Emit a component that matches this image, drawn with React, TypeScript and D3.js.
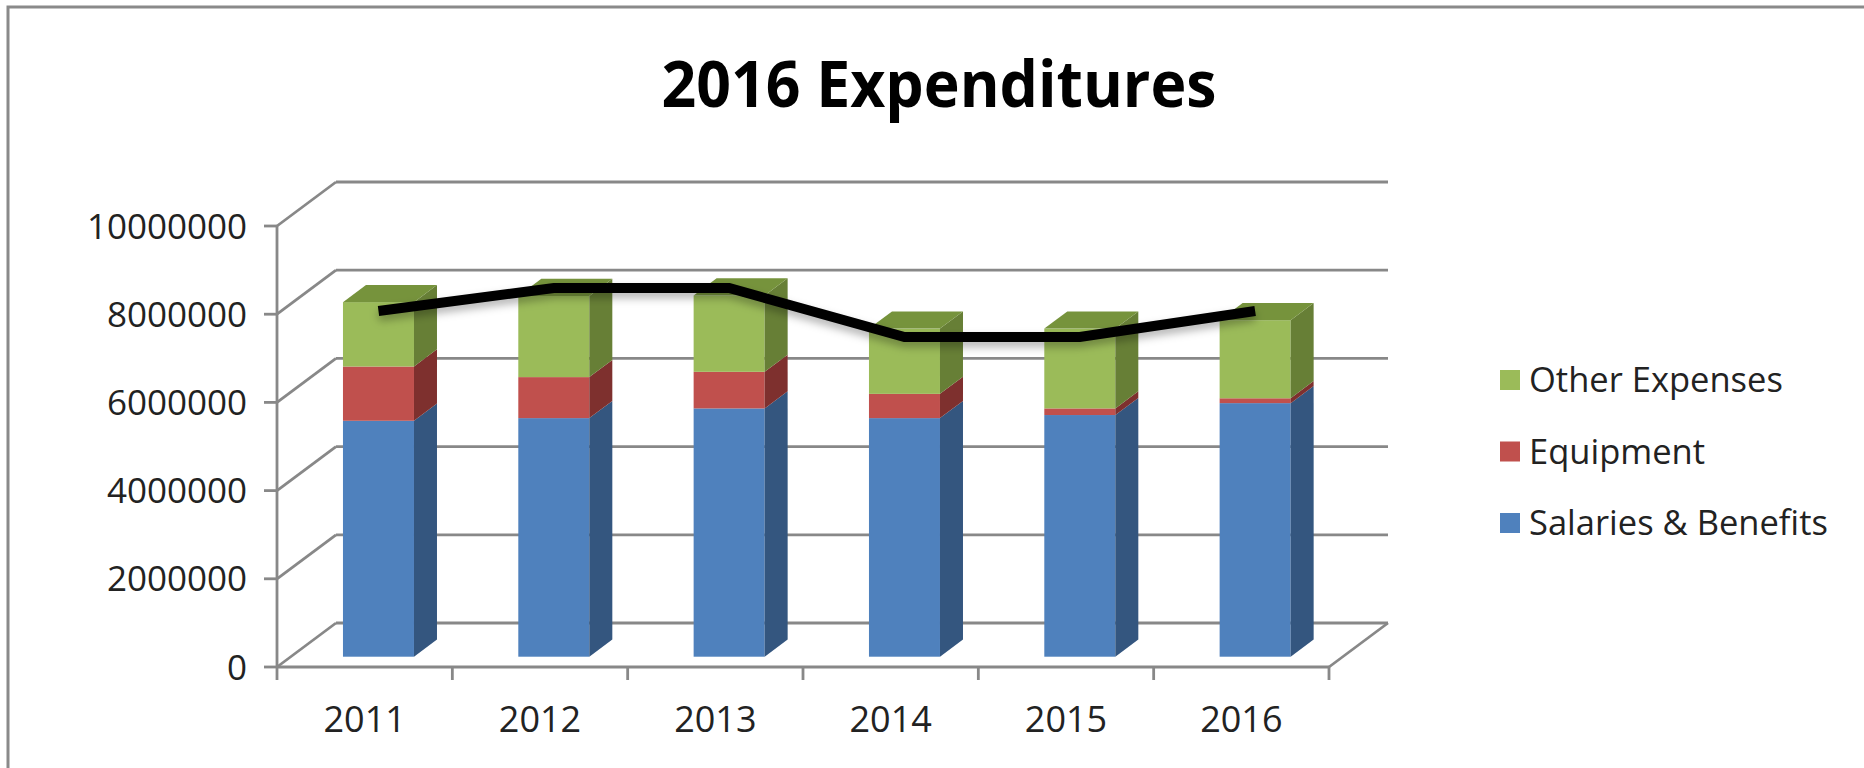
import React from "react";
import * as d3 from "d3";

const years = ["2011", "2012", "2013", "2014", "2015", "2016"];
const salaries = [5350000, 5410000, 5630000, 5410000, 5480000, 5750000];
const equipment = [1230000, 930000, 830000, 550000, 150000, 110000];
const other = [1460000, 1840000, 1730000, 1480000, 1810000, 1770000];
const lineTotals = [7840000, 8360000, 8360000, 7250000, 7250000, 7840000];
const yTicks = [0, 2000000, 4000000, 6000000, 8000000, 10000000];

const seriesNames = ["Salaries & Benefits", "Equipment", "Other Expenses"];
const seriesFront = ["#4F81BD", "#C0504D", "#9BBB59"];
const seriesSide = ["#34567F", "#7E302E", "#677F36"];
const seriesTop = ["#3E6497", "#973B39", "#76933C"];

const W = 1864;
const H = 768;
const x0 = 277;
const x1 = 1329;
const depthDx = 59;
const depthDy = -44;
const gridColor = "#888888";

// bar block sits in the middle of the floor depth
const barFront = 0.234;
const barDepth = 0.39;

const App = () => {
  const y = d3.scaleLinear().domain([0, 10000000]).range([667, 226]);
  const x = d3
    .scaleBand<string>()
    .domain(years)
    .range([x0, x1])
    .paddingInner(0.595)
    .paddingOuter(0.2975);
  const step = x.step();

  const fdx = barFront * depthDx;
  const fdy = barFront * depthDy;
  const bdx = barDepth * depthDx;
  const bdy = barDepth * depthDy;

  const stacked = d3
    .stack<number>()
    .keys(["0", "1", "2"])
    .value((i, k) => [salaries, equipment, other][+k][i])(d3.range(years.length));

  const linePts: [number, number][] = years.map((yr, i) => [
    (x(yr) as number) + x.bandwidth() / 2 + fdx,
    y(lineTotals[i]) + fdy,
  ]);
  const linePath = d3.line()(linePts) as string;

  const poly = (pts: number[][]) => pts.map((p) => p.join(",")).join(" ");
  const font = "'Open Sans', 'Liberation Sans', sans-serif";

  return (
    <svg
      width={W}
      height={H}
      style={{ position: "absolute", left: 0, top: 0, background: "#fff" }}
    >
      <defs>
        <filter id="shadow" x="-10%" y="-50%" width="120%" height="200%">
          <feDropShadow dx="0" dy="5" stdDeviation="4" floodColor="#000" floodOpacity="0.3" />
        </filter>
      </defs>

      {/* chart area border */}
      <rect x={8} y={7} width={W + 20} height={H + 20} fill="none" stroke="#8a8a8a" strokeWidth={3} />

      <text
        x={939}
        y={107}
        textAnchor="middle"
        fontFamily={font}
        fontWeight="bold"
        fontSize={64}
        textLength={555}
        lengthAdjust="spacingAndGlyphs"
        fill="#000"
      >
        2016 Expenditures
      </text>

      {/* walls and gridlines */}
      <g stroke={gridColor} strokeWidth={2.8} fill="none">
        {yTicks.map((t) => (
          <g key={t}>
            <line x1={x0} y1={y(t)} x2={x0 + depthDx} y2={y(t) + depthDy} />
            <line x1={x0 + depthDx} y1={y(t) + depthDy} x2={x1 + depthDx} y2={y(t) + depthDy} />
            <line x1={x0 - 13} y1={y(t)} x2={x0} y2={y(t)} />
          </g>
        ))}
        <line x1={x0} y1={y(10000000)} x2={x0} y2={y(0)} />
        <line x1={x0} y1={y(0)} x2={x1} y2={y(0)} />
        <line x1={x1} y1={y(0)} x2={x1 + depthDx} y2={y(0) + depthDy} />
        {d3.range(years.length + 1).map((i) => (
          <line key={i} x1={x0 + i * step} y1={y(0)} x2={x0 + i * step} y2={y(0) + 13} />
        ))}
      </g>

      {/* 3d stacked columns */}
      {years.map((yr, i) => {
        const bx = (x(yr) as number) + fdx;
        const bw = x.bandwidth();
        return (
          <g key={yr}>
            {stacked.map((s, k) => {
              const yb = y(s[i][0]) + fdy;
              const yt = y(s[i][1]) + fdy;
              const isTop = k === stacked.length - 1;
              return (
                <g key={k}>
                  <rect x={bx} y={yt} width={bw} height={yb - yt} fill={seriesFront[k]} />
                  <polygon
                    points={poly([
                      [bx + bw, yb],
                      [bx + bw + bdx, yb + bdy],
                      [bx + bw + bdx, yt + bdy],
                      [bx + bw, yt],
                    ])}
                    fill={seriesSide[k]}
                  />
                  {isTop && (
                    <polygon
                      points={poly([
                        [bx, yt],
                        [bx + bw, yt],
                        [bx + bw + bdx, yt + bdy],
                        [bx + bdx, yt + bdy],
                      ])}
                      fill={seriesTop[k]}
                    />
                  )}
                </g>
              );
            })}
          </g>
        );
      })}

      <path d={linePath} fill="none" stroke="#000" strokeWidth={10} filter="url(#shadow)" />

      {/* y axis labels */}
      {yTicks.map((t) => (
        <text
          key={t}
          x={247}
          y={y(t)}
          dy="0.36em"
          textAnchor="end"
          fontFamily={font}
          fontSize={35}
          fill="#222"
        >
          {t}
        </text>
      ))}

      {/* x axis labels */}
      {years.map((yr) => (
        <text
          key={yr}
          x={(x(yr) as number) + x.bandwidth() / 2}
          y={732}
          textAnchor="middle"
          fontFamily={font}
          fontSize={36}
          fill="#222"
        >
          {yr}
        </text>
      ))}

      {/* legend */}
      {[2, 1, 0].map((k, j) => (
        <g key={k} transform={`translate(1500, ${380 + j * 71.5})`}>
          <rect x={0} y={-10} width={20} height={20} fill={seriesFront[k]} />
          <text x={29} y={0} dy="0.36em" fontFamily={font} fontSize={34.5} fill="#222">
            {seriesNames[k]}
          </text>
        </g>
      ))}
    </svg>
  );
};

export default App;
